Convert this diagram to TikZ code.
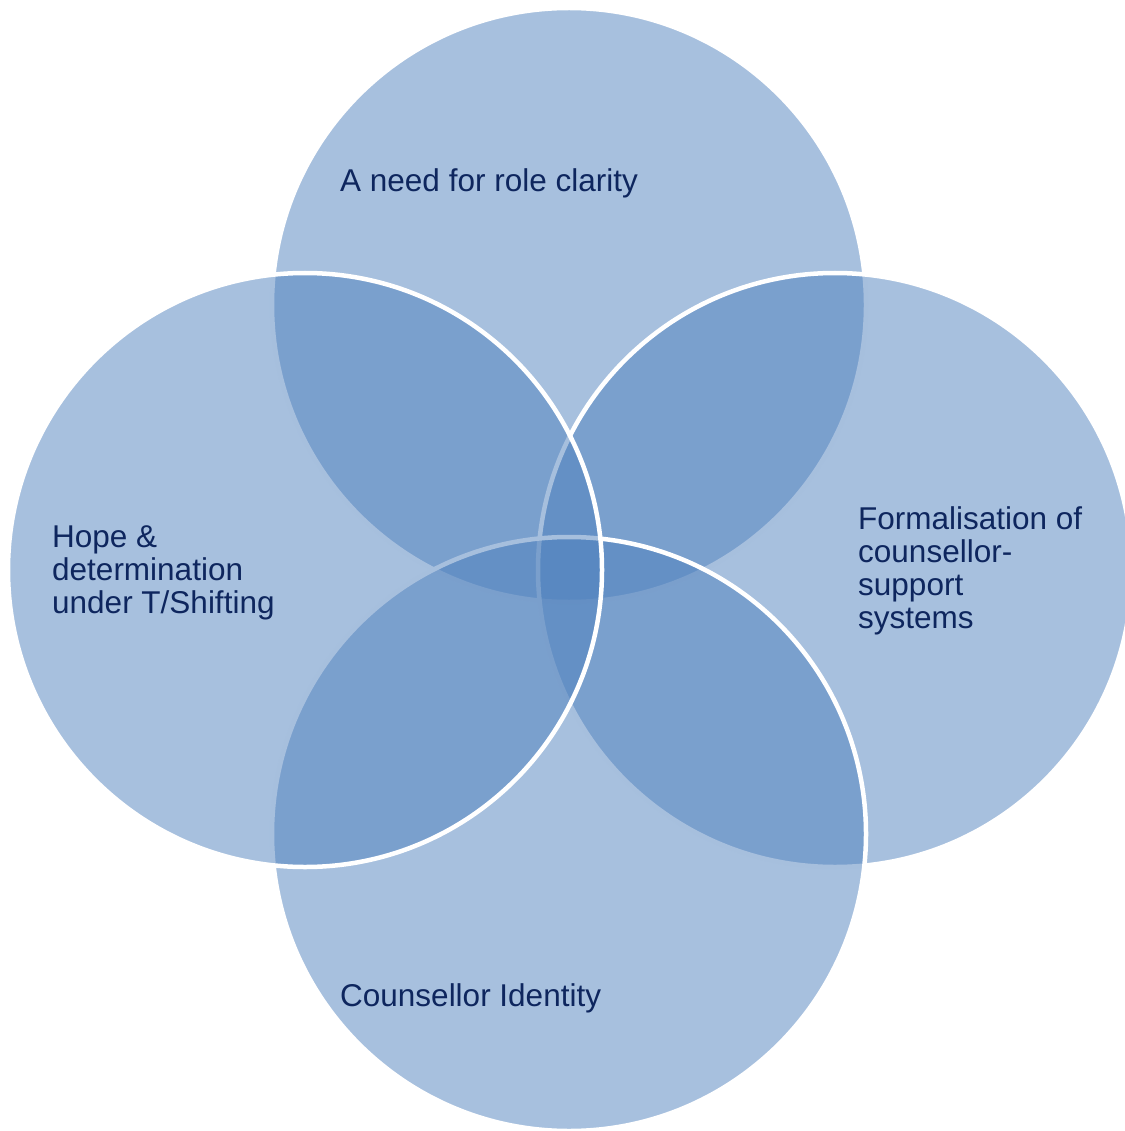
\documentclass[tikz,border=0pt]{standalone}
\usepackage{fontspec}
\setmainfont{Liberation Sans}
\definecolor{ringblue}{HTML}{4F81BD}
\definecolor{labelnavy}{RGB}{14,38,94}
\tikzset{
  ring/.style={circle, inner sep=0pt, outer sep=0pt, minimum size=594pt,
    fill=ringblue, fill opacity=0.5, draw=white, line width=4.5pt},
  label/.style={anchor=base west, inner sep=0pt, text=labelnavy,
    font=\fontsize{31.5}{33}\selectfont}
}
\newcommand{\lines}[1]{\parbox[t]{9cm}{\raggedright #1}}
\begin{document}
\begin{tikzpicture}[x=1pt,y=-1pt]
  \useasboundingbox (0,0) rectangle (1124,1131);
  % four overlapping circles, later ones lie over the outlines of earlier ones
  \node[ring] (top)    at (569,305) {};
  \node[ring] (right)  at (835,570) {};
  \node[ring] (bottom) at (569,834) {};
  \node[ring] (left)   at (305,570) {};
  % labels
  \node[label] (toptext)    at (340,192)  {A need for role clarity};
  \node[label] (lefttext)   at (52,547)   {\lines{Hope \&\\determination\\under T/Shifting}};
  \node[label] (righttext)  at (858,529)  {\lines{Formalisation of\\counsellor-\\support\\systems}};
  \node[label] (bottomtext) at (340,1006) {Counsellor Identity};
\end{tikzpicture}
\end{document}
